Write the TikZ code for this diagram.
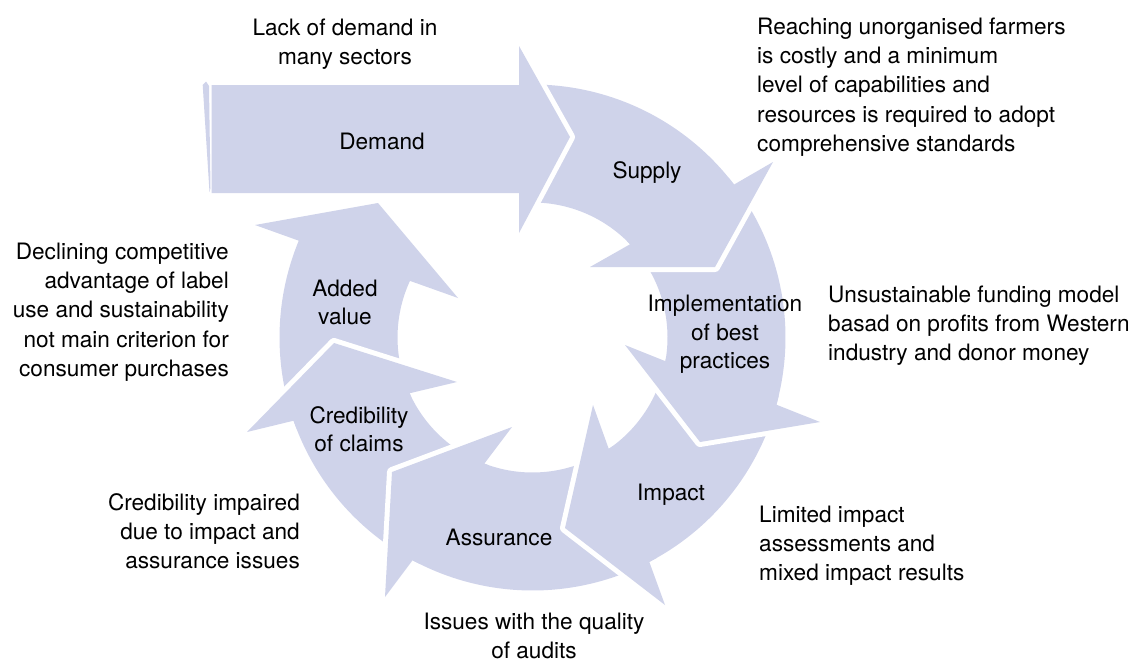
\documentclass[tikz,border=0pt]{standalone}
\usepackage{fontspec}
\setmainfont{TeX Gyre Heros}
\definecolor{lav}{RGB}{207,211,234}
\begin{document}
\begin{tikzpicture}[x=1pt,y=1pt,
  halo/.style={draw=white,line width=10pt,line join=round,line cap=round},
  shp/.style={fill=lav},
  txt/.style={inner sep=0pt,font=\fontsize{22.6}{29.3}\selectfont},
  intxt/.style={inner sep=0pt,font=\fontsize{22.6}{28.4}\selectfont}]
\useasboundingbox (0,0) rectangle (1137,-662);
\coordinate (C) at (532.5,-337.5);
% Added value
\draw[halo] (255,-225) -- (378,-203) -- (458,-298);
\fill[shp] ([shift={(C)}]-158.8:253) arc[start angle=-158.8,end angle=-202.5,radius=253] -- (255,-225) -- (378,-203) -- (458,-298) -- ([shift={(C)}]-204.8:135) arc[start angle=-204.8,end angle=-153.6,radius=135] -- cycle;
% Credibility
\draw[halo] (247,-432) -- (334,-343) -- (457,-382);
\fill[shp] ([shift={(C)}]-116.3:253) arc[start angle=-116.3,end angle=-160.8,radius=253] -- (247,-432) -- (334,-343) -- (457,-382) -- ([shift={(C)}]-155.6:135) arc[start angle=-155.6,end angle=-108.9,radius=135] -- cycle;
% Assurance
\draw[halo] (385,-597) -- (392,-472) -- (512,-427);
\fill[shp] ([shift={(C)}]-60.5:253) arc[start angle=-60.5,end angle=-118.3,radius=253] -- (385,-597) -- (392,-472) -- (512,-427) -- ([shift={(C)}]-110.9:135) arc[start angle=-110.9,end angle=-53.6,radius=135] -- cycle;
% Impact
\draw[halo] (665,-605) -- (565,-528) -- (593,-405);
\fill[shp] ([shift={(C)}]-13.4:253) arc[start angle=-13.4,end angle=-62.5,radius=253] -- (665,-605) -- (565,-528) -- (593,-405) -- ([shift={(C)}]-55.6:135) arc[start angle=-55.6,end angle=-8.1,radius=135] -- cycle;
% Implementation
\draw[halo] (820,-422) -- (700,-442) -- (625,-345);
\fill[shp] ([shift={(C)}]39.2:253) arc[start angle=39.2,end angle=-15.4,radius=253] -- (820,-422) -- (700,-442) -- (625,-345) -- ([shift={(C)}]-10.1:135) arc[start angle=-10.1,end angle=45.7,radius=135] -- cycle;
% Supply
\draw[halo] (773,-162) -- (715,-267) -- (590,-267);
\fill[shp] ([shift={(C)}]92:253) arc[start angle=92,end angle=37.2,radius=253] -- (773,-162) -- (715,-267) -- (590,-267) -- ([shift={(C)}]43.7:135) arc[start angle=43.7,end angle=93,radius=135] -- cycle;
% Demand
\draw[halo] (519,-46) -- (570,-137) -- (519,-233);
\fill[shp] (211.5,-85) -- (519,-85) -- (519,-46) -- (570,-137) -- (519,-233) -- (519,-193) -- (211.5,-193) -- cycle;
\fill[shp] (202.7,-85) -- (206,-81.5) -- (209,-86) -- (210.5,-188) -- (209.5,-192) -- cycle;
% texts
\node[intxt,anchor=base] (demand) at (382,-149) {Demand};
\node[intxt,anchor=base] (supply) at (647,-178.3) {Supply};
\node[intxt,anchor=north,align=center] (impl) at (725,-291.8) {\strut Implementation\\of best\\practices};
\node[intxt,anchor=base] (impact) at (671,-500) {Impact};
\node[intxt,anchor=base] (assur) at (499,-545.5) {Assurance};
\node[intxt,anchor=north,align=center] (cred) at (359,-403.4) {\strut Credibility\\of claims};
\node[intxt,anchor=north,align=center] (added) at (345,-276.1) {\strut Added\\value};
\node[txt,anchor=north,align=center] (lack) at (345,-14.5) {\strut Lack of demand in\\many sectors};
\node[txt,anchor=north west,align=left] (reach) at (757,-13.5) {\strut Reaching unorganised farmers\\is costly and a minimum\\level of capabilities and\\resources is required to adopt\\comprehensive standards};
\node[txt,anchor=north west,align=left] (unsus) at (828,-281.5) {\strut Unsustainable funding model\\basad on profits from Western\\industry and donor money};
\node[txt,anchor=north west,align=left] (limit) at (759,-501.5) {\strut Limited impact\\assessments and\\mixed impact results};
\node[txt,anchor=north,align=center] (issues) at (534,-608.5) {\strut Issues with the quality\\of audits};
\node[txt,anchor=north east,align=right] (credimp) at (300,-489.5) {\strut Credibility impaired\\due to impact and\\assurance issues};
\node[txt,anchor=north east,align=right] (decl) at (229,-238.5) {\strut Declining competitive\\advantage of label\\use and sustainability\\not main criterion for\\consumer purchases};
\end{tikzpicture}
\end{document}
